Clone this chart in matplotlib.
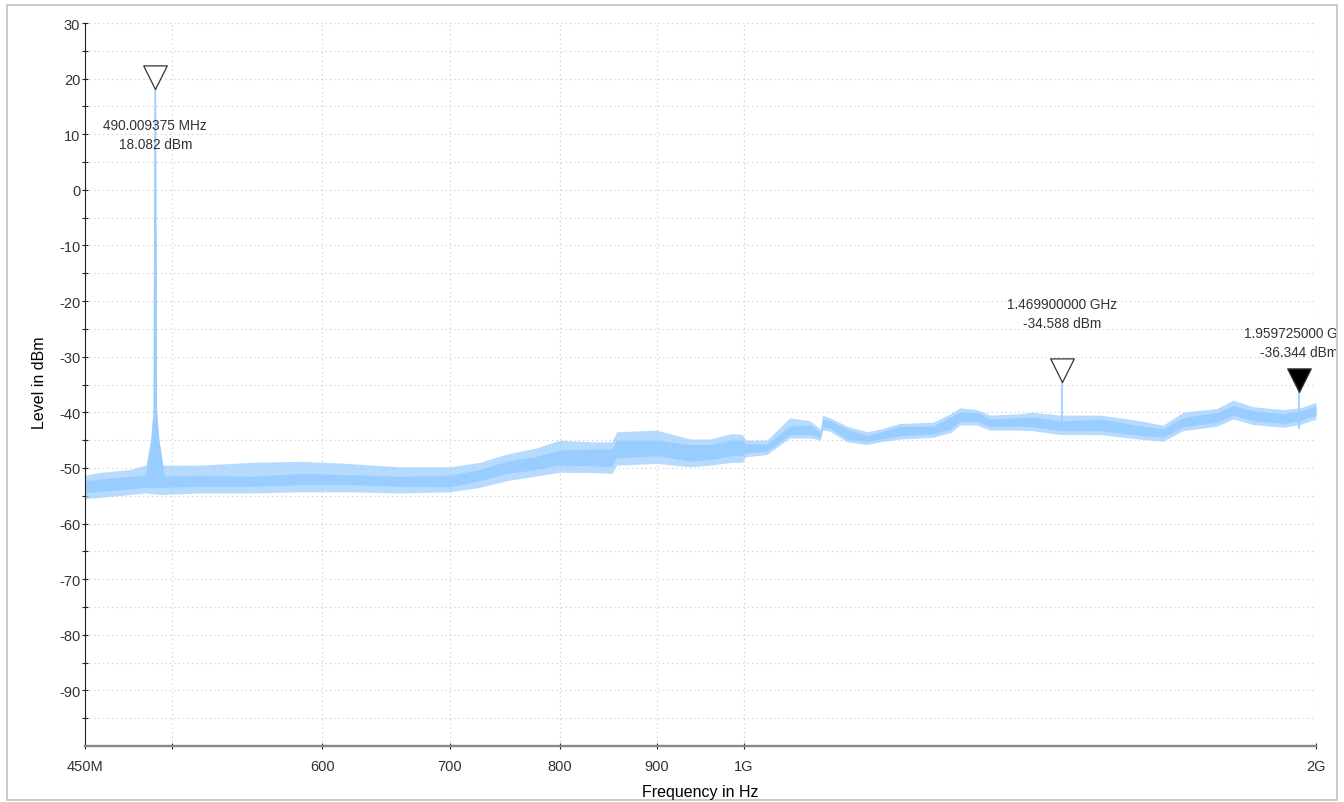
import matplotlib.pyplot as plt
from matplotlib.patches import Rectangle
from matplotlib.ticker import FixedLocator, FixedFormatter, NullLocator
from matplotlib.transforms import Bbox, TransformedBbox

TRACE = "#99CCFF"
GRID = "#C8C8C8"
INK = "#222222"

# spectrum envelope (MHz, dBm)
freq_mhz = [450, 458, 475, 484, 493, 517, 550, 584, 620, 659, 700, 726, 750, 776,
            800, 830, 852, 857, 900, 937, 960, 985, 998, 1002, 1028, 1057, 1083,
            1097, 1100, 1110, 1133, 1160, 1180, 1208, 1257, 1285, 1299, 1326, 1347,
            1392, 1419, 1467, 1540, 1602, 1662, 1702, 1774, 1809, 1853, 1922, 1962, 2000]
body_low = [-54.5, -54.2, -53.8, -53.5, -53.5, -53.3, -53.3, -53.0, -53.0, -53.3, -53.4,
            -52.3, -51.0, -50.3, -49.5, -49.6, -49.8, -48.2, -47.8, -48.8, -48.5, -47.8,
            -47.8, -47.3, -47.0, -44.0, -44.0, -44.5, -42.6, -42.9, -44.8, -45.3, -44.8,
            -44.2, -43.9, -43.0, -41.6, -41.6, -42.5, -42.5, -42.6, -43.3, -43.3, -44.0,
            -44.5, -42.6, -41.8, -40.5, -41.5, -42.0, -41.5, -40.5]
body_high = [-52.3, -52.0, -51.5, -51.3, -51.5, -51.3, -51.5, -51.0, -51.2, -51.5, -51.3,
             -50.3, -48.8, -48.0, -46.8, -46.6, -46.6, -45.0, -45.0, -45.8, -45.8, -45.0,
             -45.0, -45.7, -45.7, -42.5, -42.3, -43.6, -41.2, -41.5, -43.0, -44.2, -43.5,
             -42.5, -42.5, -40.8, -40.0, -40.0, -41.2, -41.0, -40.8, -41.6, -41.2, -42.2,
             -43.0, -41.0, -40.0, -38.8, -39.7, -40.3, -39.8, -38.8]
outer_low = [-55.5, -55.3, -54.8, -54.5, -54.8, -54.5, -54.5, -54.3, -54.3, -54.5, -54.3,
             -53.5, -52.3, -51.5, -50.8, -50.8, -51.0, -49.5, -49.2, -49.8, -49.5, -49.0,
             -49.0, -48.0, -47.6, -44.6, -44.6, -45.0, -43.2, -43.4, -45.3, -45.8, -45.3,
             -44.8, -44.5, -43.6, -42.3, -42.3, -43.2, -43.2, -43.3, -44.0, -44.0, -44.7,
             -45.2, -43.3, -42.5, -41.2, -42.2, -42.7, -42.2, -41.2]
outer_high = [-51.3, -50.8, -50.3, -49.5, -49.5, -49.5, -49.0, -48.8, -49.2, -49.8, -49.8,
              -49.0, -47.5, -46.5, -45.0, -45.3, -45.3, -43.5, -43.2, -44.8, -44.8, -43.8,
              -44.0, -45.0, -45.0, -41.0, -41.5, -43.0, -40.5, -41.0, -42.5, -43.5, -43.0,
              -42.0, -41.8, -40.2, -39.2, -39.5, -40.5, -40.3, -40.0, -40.5, -40.5, -41.3,
              -42.3, -40.0, -39.3, -37.8, -39.0, -39.5, -39.2, -38.2]

# carrier at 490 MHz
carrier_freq = [484, 486, 488, 489.4, 490.009375, 490.6, 492, 494, 496]
carrier_level = [-53.0, -48.5, -45.0, -40.0, 18.082, -40.0, -45.0, -49.0, -53.0]

# markers
marker_freq = [490.009375, 1469.9, 1959.725]
marker_level = [18.082, -34.588, -36.344]
marker_text = ["490.009375 MHz\n18.082 dBm",
               "1.469900000 GHz\n-34.588 dBm",
               "1.959725000 GHz\n-36.344 dBm"]
marker_filled = [False, False, True]
label_offset_px = [-45, 69, 49]

x_ticks = [450, 500, 600, 700, 800, 900, 1000, 2000]
x_tick_labels = ["450M", "", "600", "700", "800", "900", "1G", "2G"]
y_major = list(range(-90, 31, 10))
y_minor = list(range(-95, 30, 10))

plt.rcParams["font.family"] = ["Liberation Sans", "DejaVu Sans"]
plt.rcParams["axes.unicode_minus"] = False

fig = plt.figure(figsize=(13.44, 8.03), dpi=100, facecolor="white")
ax = fig.add_axes([85 / 1344, 1 - 747 / 803, 1231 / 1344, 723 / 803])

ax.set_xscale("log")
ax.set_xlim(450, 2000)
ax.set_ylim(-100, 30)

ax.fill_between(freq_mhz, outer_low, outer_high, color=TRACE, alpha=0.7, linewidth=0)
ax.fill_between(freq_mhz, body_low, body_high, color=TRACE, linewidth=0)
ax.fill_between(carrier_freq, -53, carrier_level, color=TRACE, linewidth=0)
ax.plot(carrier_freq, carrier_level, color=TRACE, linewidth=1.2)
ax.vlines(marker_freq[1:], -43, marker_level[1:], color=TRACE, linewidth=1.2)

tip_marker = [(0, 0), (-1, 2), (1, 2), (0, 0)]
clip = TransformedBbox(Bbox([[0, 0], [1336 / 1344, 1]]), fig.transFigure)
for f, lvl, txt, filled, off in zip(marker_freq, marker_level, marker_text,
                                    marker_filled, label_offset_px):
    ax.plot([f], [lvl], marker=tip_marker, markersize=34,
            markerfacecolor="black" if filled else "white",
            markeredgecolor="#333333", markeredgewidth=0.9, linestyle="none",
            clip_on=False, zorder=5)
    t = ax.annotate(txt, (f, lvl), xytext=(0, off), textcoords="offset pixels",
                    ha="center", va="center", fontsize=9.8, color="#333333",
                    linespacing=1.45, annotation_clip=False)
    t.set_clip_on(True)
    t.set_clip_box(clip)

ax.xaxis.set_major_locator(FixedLocator(x_ticks))
ax.xaxis.set_major_formatter(FixedFormatter(x_tick_labels))
ax.xaxis.set_minor_locator(NullLocator())
ax.yaxis.set_major_locator(FixedLocator(y_major))
ax.yaxis.set_minor_locator(FixedLocator(y_minor))

ax.grid(which="both", color=GRID, linestyle=(0, (1, 3)), linewidth=0.8)
ax.set_axisbelow(True)

for side in ["top", "right"]:
    ax.spines[side].set_visible(False)
ax.spines["left"].set_color(INK)
ax.spines["left"].set_linewidth(0.8)
ax.spines["bottom"].set_color("#888888")
ax.spines["bottom"].set_linewidth(1.7)

ax.tick_params(axis="y", which="both", direction="inout", length=5, width=0.8,
               color=INK, labelsize=10.5, labelcolor="#333333", pad=1)
ax.tick_params(axis="x", which="both", direction="inout", length=5, width=0.8,
               color=INK, labelsize=10.5, labelcolor="#333333", pad=7)

fig.text(40 / 1344, 1 - 383 / 803, "Level in dBm", rotation=90, ha="center",
         va="center", fontsize=11.5, color="black")
fig.text(700 / 1344, 1 - 793 / 803, "Frequency in Hz", ha="center", va="center",
         fontsize=11.5, color="black")

fig.patches.append(Rectangle((7 / 1344, 1 - 801 / 803), 1330 / 1344, 795 / 803,
                             transform=fig.transFigure, facecolor="none",
                             edgecolor="#C0C0C0", linewidth=1.2))

fig.savefig("out.png", dpi=100, facecolor="white")
